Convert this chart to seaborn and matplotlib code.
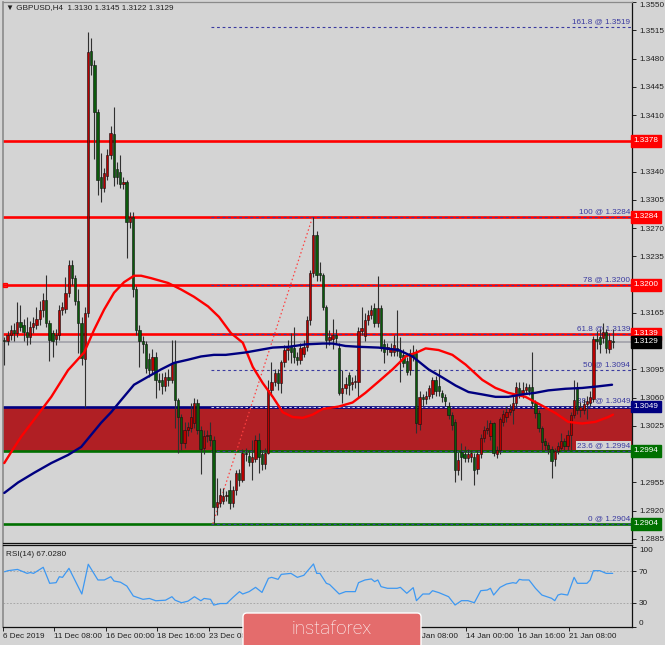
import numpy as np
import pandas as pd
import matplotlib
matplotlib.use("Agg")
import matplotlib.pyplot as plt
import matplotlib.transforms as mtrans
from matplotlib.patches import FancyBboxPatch
import seaborn as sns

# GBPUSD H4 candles (bar 0 = 6 Dec 2019 16:00)
opens = [
    1.3132, 1.3130, 1.3137, 1.3144, 1.3140, 1.3154, 1.3150, 1.3141, 1.3135, 1.3148,
    1.3150, 1.3158, 1.3168, 1.3181, 1.3153, 1.3140, 1.3133, 1.3138, 1.3169, 1.3170,
    1.3190, 1.3224, 1.3208, 1.3180, 1.3153, 1.3108, 1.3165, 1.3489, 1.3472, 1.3414,
    1.3333, 1.3320, 1.3335, 1.3361, 1.3386, 1.3343, 1.3340, 1.3324, 1.3327, 1.3278,
    1.3284, 1.3194, 1.3144, 1.3130, 1.3126, 1.3108, 1.3094, 1.3110, 1.3082, 1.3082,
    1.3074, 1.3085, 1.3082, 1.3103, 1.3057, 1.3036, 1.3004, 1.3020, 1.3022, 1.3028,
    1.3054, 1.3020, 1.2998, 1.3012, 1.3014, 1.3008, 1.2924, 1.2930, 1.2932, 1.2938,
    1.2946, 1.2930, 1.2946, 1.2967, 1.2958, 1.2992, 1.2988, 1.2980, 1.2984, 1.3008,
    1.2990, 1.2978, 1.2992, 1.3070, 1.3080, 1.3091, 1.3078, 1.3104, 1.3119, 1.3124,
    1.3122, 1.3110, 1.3107, 1.3114, 1.3123, 1.3156, 1.3215, 1.3262, 1.3214, 1.3212,
    1.3172, 1.3131, 1.3133, 1.3138, 1.3122, 1.3066, 1.3072, 1.3088, 1.3077, 1.3079,
    1.3079, 1.3142, 1.3136, 1.3156, 1.3162, 1.3171, 1.3153, 1.3171, 1.3127, 1.3120,
    1.3117, 1.3117, 1.3122, 1.3118, 1.3113, 1.3105, 1.3094, 1.3115, 1.3115, 1.3027,
    1.3061, 1.3058, 1.3062, 1.3064, 1.3082, 1.3074, 1.3066, 1.3061, 1.3050, 1.3039,
    1.3030, 1.2971, 1.2993, 1.2990, 1.2985, 1.2986, 1.2987, 1.2972, 1.2990, 1.3010,
    1.3020, 1.3012, 1.3028, 1.2990, 1.2995, 1.3030, 1.3036, 1.3042, 1.3045, 1.3053,
    1.3072, 1.3064, 1.3070, 1.3073, 1.3073, 1.3053, 1.3041, 1.3022, 1.3006, 1.3001,
    1.2997, 1.2984, 1.2994, 1.2998, 1.3006, 1.3000, 1.3014, 1.3039, 1.3072, 1.3045,
    1.3045, 1.3052, 1.3054, 1.3058, 1.3133, 1.3135, 1.3134, 1.3141, 1.3120, 1.3130,
]
highs = [
    1.3135, 1.3142, 1.3150, 1.3153, 1.3179, 1.3175, 1.3158, 1.3160, 1.3155, 1.3160,
    1.3172, 1.3180, 1.3190, 1.3212, 1.3156, 1.3144, 1.3145, 1.3175, 1.3178, 1.3210,
    1.3230, 1.3230, 1.3212, 1.3194, 1.3160, 1.3172, 1.3513, 1.3505, 1.3478, 1.3417,
    1.3363, 1.3345, 1.3368, 1.3396, 1.3420, 1.3352, 1.3361, 1.3333, 1.3330, 1.3290,
    1.3290, 1.3198, 1.3150, 1.3136, 1.3130, 1.3115, 1.3120, 1.3117, 1.3090, 1.3090,
    1.3092, 1.3095, 1.3131, 1.3131, 1.3060, 1.3040, 1.3030, 1.3030, 1.3054, 1.3060,
    1.3058, 1.3025, 1.3020, 1.3020, 1.3030, 1.3012, 1.2960, 1.2948, 1.2948, 1.2945,
    1.2958, 1.2950, 1.2971, 1.2972, 1.2996, 1.2998, 1.2995, 1.3007, 1.3014, 1.3016,
    1.2995, 1.2998, 1.3082, 1.3104, 1.3096, 1.3096, 1.3107, 1.3125, 1.3131, 1.3140,
    1.3148, 1.3117, 1.3128, 1.3131, 1.3161, 1.3218, 1.3284, 1.3266, 1.3228, 1.3215,
    1.3175, 1.3144, 1.3158, 1.3145, 1.3128, 1.3094, 1.3085, 1.3092, 1.3085, 1.3088,
    1.3147, 1.3172, 1.3165, 1.3168, 1.3175, 1.3177, 1.3211, 1.3175, 1.3133, 1.3128,
    1.3128, 1.3138, 1.3169, 1.3135, 1.3120, 1.3110, 1.3120, 1.3125, 1.3120, 1.3068,
    1.3065, 1.3068, 1.3076, 1.3086, 1.3087, 1.3095, 1.3070, 1.3064, 1.3055, 1.3042,
    1.3034, 1.2993, 1.3004, 1.3000, 1.2996, 1.2995, 1.2992, 1.2995, 1.3015, 1.3025,
    1.3032, 1.3032, 1.3030, 1.3000, 1.3036, 1.3045, 1.3050, 1.3052, 1.3066, 1.3080,
    1.3080, 1.3080, 1.3078, 1.3077, 1.3117, 1.3057, 1.3045, 1.3025, 1.3010, 1.3005,
    1.3000, 1.2998, 1.3005, 1.3016, 1.3010, 1.3020, 1.3042, 1.3082, 1.3080, 1.3055,
    1.3058, 1.3062, 1.3068, 1.3136, 1.3142, 1.3145, 1.3152, 1.3145, 1.3140, 1.3145,
]
lows = [
    1.3100, 1.3125, 1.3132, 1.3130, 1.3135, 1.3142, 1.3130, 1.3125, 1.3127, 1.3140,
    1.3145, 1.3150, 1.3160, 1.3148, 1.3105, 1.3110, 1.3125, 1.3132, 1.3162, 1.3165,
    1.3185, 1.3200, 1.3175, 1.3115, 1.3100, 1.3049, 1.3160, 1.3460, 1.3355, 1.3311,
    1.3302, 1.3315, 1.3330, 1.3355, 1.3322, 1.3325, 1.3320, 1.3318, 1.3233, 1.3270,
    1.3185, 1.3138, 1.3098, 1.3115, 1.3090, 1.3085, 1.3090, 1.3060, 1.3070, 1.3065,
    1.3068, 1.3075, 1.3078, 1.3023, 1.2992, 1.2995, 1.2998, 1.3012, 1.3018, 1.3022,
    1.3015, 1.2966, 1.2990, 1.3005, 1.3000, 1.2904, 1.2915, 1.2925, 1.2928, 1.2932,
    1.2922, 1.2925, 1.2940, 1.2950, 1.2955, 1.2982, 1.2975, 1.2958, 1.2980, 1.2967,
    1.2970, 1.2972, 1.2990, 1.3062, 1.3075, 1.3070, 1.3066, 1.3098, 1.3107, 1.3103,
    1.3103, 1.3100, 1.3102, 1.3110, 1.3118, 1.3150, 1.3210, 1.3205, 1.3205, 1.3168,
    1.3122, 1.3125, 1.3120, 1.3127, 1.3063, 1.3054, 1.3065, 1.3063, 1.3070, 1.3072,
    1.3060, 1.3138, 1.3130, 1.3150, 1.3158, 1.3148, 1.3148, 1.3118, 1.3103, 1.3113,
    1.3112, 1.3112, 1.3112, 1.3080, 1.3098, 1.3088, 1.3088, 1.3105, 1.3016, 1.3020,
    1.3050, 1.3052, 1.3058, 1.3060, 1.3062, 1.3062, 1.3055, 1.3050, 1.3034, 1.3020,
    1.2955, 1.2964, 1.2958, 1.2980, 1.2980, 1.2980, 1.2952, 1.2966, 1.2985, 1.3005,
    1.3015, 1.3008, 1.2988, 1.2985, 1.2990, 1.3025, 1.3030, 1.3038, 1.3027, 1.3048,
    1.3060, 1.3060, 1.3065, 1.3063, 1.3048, 1.3035, 1.3018, 1.2995, 1.2995, 1.2990,
    1.2960, 1.2975, 1.2990, 1.2995, 1.2995, 1.2995, 1.2995, 1.3035, 1.3040, 1.3036,
    1.3040, 1.3033, 1.3050, 1.3055, 1.3120, 1.3115, 1.3128, 1.3115, 1.3115, 1.3122,
]
closes = [
    1.3130, 1.3137, 1.3144, 1.3140, 1.3154, 1.3148, 1.3141, 1.3135, 1.3148, 1.3152,
    1.3158, 1.3168, 1.3181, 1.3153, 1.3132, 1.3130, 1.3138, 1.3169, 1.3172, 1.3190,
    1.3224, 1.3208, 1.3180, 1.3153, 1.3109, 1.3165, 1.3488, 1.3472, 1.3414, 1.3330,
    1.3320, 1.3338, 1.3361, 1.3388, 1.3333, 1.3333, 1.3324, 1.3327, 1.3278, 1.3284,
    1.3194, 1.3144, 1.3130, 1.3126, 1.3097, 1.3094, 1.3110, 1.3082, 1.3080, 1.3074,
    1.3085, 1.3082, 1.3103, 1.3057, 1.3036, 1.3004, 1.3020, 1.3024, 1.3036, 1.3054,
    1.3020, 1.2996, 1.3012, 1.3014, 1.3008, 1.2924, 1.2931, 1.2940, 1.2938, 1.2940,
    1.2930, 1.2946, 1.2967, 1.2958, 1.2992, 1.2990, 1.2980, 1.2986, 1.3008, 1.2986,
    1.2978, 1.2992, 1.3070, 1.3080, 1.3091, 1.3078, 1.3104, 1.3119, 1.3122, 1.3116,
    1.3110, 1.3107, 1.3121, 1.3123, 1.3156, 1.3215, 1.3262, 1.3212, 1.3212, 1.3172,
    1.3131, 1.3135, 1.3138, 1.3134, 1.3066, 1.3072, 1.3077, 1.3076, 1.3079, 1.3081,
    1.3142, 1.3146, 1.3156, 1.3162, 1.3169, 1.3153, 1.3171, 1.3123, 1.3117, 1.3123,
    1.3122, 1.3125, 1.3118, 1.3110, 1.3103, 1.3092, 1.3115, 1.3110, 1.3029, 1.3061,
    1.3058, 1.3062, 1.3072, 1.3082, 1.3068, 1.3068, 1.3061, 1.3056, 1.3039, 1.3026,
    1.2971, 1.2983, 1.2986, 1.2985, 1.2990, 1.2991, 1.2971, 1.2990, 1.3010, 1.3020,
    1.3022, 1.3028, 1.2992, 1.2995, 1.3033, 1.3040, 1.3042, 1.3046, 1.3053, 1.3073,
    1.3064, 1.3070, 1.3073, 1.3068, 1.3053, 1.3041, 1.3022, 1.3005, 1.3001, 1.2997,
    1.2982, 1.2994, 1.3000, 1.3006, 1.3000, 1.3014, 1.3039, 1.3057, 1.3045, 1.3048,
    1.3052, 1.3056, 1.3061, 1.3133, 1.3130, 1.3127, 1.3141, 1.3122, 1.3132, 1.3129,
]

# moving averages (red = fast, navy = slow), read at sample bars
red_ma_bar = [0, 2.2, 5.3, 9.3, 14.6, 19.8, 24.8, 27.9, 31, 34.1, 37.2, 40.3, 42.5, 45.6,
              50.9, 54.9, 58.9, 63.3, 66.7, 70.4, 74.1, 77.2, 80.3, 83.4, 86.5, 89.6,
              92.7, 95.8, 98.9, 103.9, 108.2, 112.2, 116.3, 120.6, 124.7, 128.7, 130.9,
              134.9, 139.2, 143.3, 148.5, 152.6, 156.6, 161.9, 167.1, 171.2, 175.2,
              179.5, 183.6, 187.6, 189.1]
red_ma_val = [1.2979, 1.2993, 1.3012, 1.3033, 1.3061, 1.3094, 1.3116, 1.3144, 1.3169, 1.3190,
              1.3203, 1.3211, 1.3211, 1.3208, 1.3202, 1.3194, 1.3185, 1.3173, 1.3160, 1.3140,
              1.3128, 1.3098, 1.3078, 1.3061, 1.3042, 1.3036, 1.3035, 1.3039, 1.3046, 1.3049,
              1.3054, 1.3066, 1.3080, 1.3095, 1.3111, 1.3117, 1.3121, 1.3119, 1.3113, 1.3101,
              1.3082, 1.3072, 1.3066, 1.3061, 1.3050, 1.3041, 1.3030, 1.3028, 1.3030, 1.3036,
              1.3039]
blue_ma_bar = [0, 4.3, 9.3, 14.6, 19.8, 23.9, 27, 30.1, 33.2, 36.3, 40.3, 44.7, 48.7, 52.7,
               57.1, 61.1, 65.1, 68.8, 75, 83.4, 88.4, 93.6, 98.9, 102, 106, 110, 116.3,
               122.5, 126.8, 129.3, 131.8, 136.1, 140.2, 144.2, 148.5, 152.6, 156.6, 160.9,
               165, 169, 174.3, 179.5, 184.5, 188.8]
blue_ma_val = [1.2942, 1.2955, 1.2967, 1.2979, 1.2989, 1.2999, 1.3014, 1.3029, 1.3042, 1.3057,
               1.3076, 1.3086, 1.3095, 1.3103, 1.3107, 1.3111, 1.3113, 1.3113, 1.3116, 1.3122,
               1.3123, 1.3126, 1.3127, 1.3127, 1.3124, 1.3123, 1.3122, 1.3119, 1.3111, 1.3103,
               1.3095, 1.3085, 1.3075, 1.3067, 1.3064, 1.3061, 1.3061, 1.3064, 1.3066, 1.3069,
               1.3071, 1.3072, 1.3074, 1.3076]

# RSI(14)
rsi_bar = [0, 1, 4, 5, 7, 8, 9, 12, 14, 16, 17, 18, 20, 24, 26, 29, 31, 33, 34, 36, 38, 40,
           43, 45, 47, 50, 52, 53, 55, 57, 59, 61, 62, 64, 65, 67, 69, 71, 73, 74, 76, 78,
           80, 82, 83, 85, 86, 89, 91, 93, 96, 97, 98, 100, 101, 104, 106, 109, 110, 112,
           114, 115, 116, 117, 119, 122, 123, 125, 127, 128, 130, 132, 133, 135, 138, 140,
           142, 144, 146, 148, 150, 151, 152, 154, 156, 158, 159, 160, 161, 163, 165, 167,
           170, 171, 172, 173, 175, 177, 178, 181, 182, 183, 185, 187, 189]
rsi_val = [69, 70.4, 72, 70.4, 67, 68.1, 67, 74.7, 54.5, 55.3, 62.8, 62, 73.4, 41, 78.5,
           58.7, 58.7, 62.8, 57.4, 55.9, 51, 38.5, 34.3, 35.4, 32.5, 33.2, 37.6, 33.2, 30,
           32, 37.6, 32.5, 35.4, 34.3, 27, 29, 29, 36.8, 44, 41, 44, 49.4, 43, 60.8, 62,
           59.5, 65.8, 67, 62, 64.6, 78.9, 67, 67, 54.5, 53, 41, 44, 44, 55.3, 58.7, 60,
           56.6, 58.7, 50.3, 48.2, 48.2, 49.4, 41.9, 49, 32.6, 41, 41, 45.2, 42.7, 37.6,
           27.1, 32.6, 32.6, 30, 45.2, 46, 48.2, 39.7, 49.4, 53.6, 55.3, 54.5, 59.5, 58.7,
           58.7, 48.2, 39.7, 35.6, 32.6, 39.7, 41, 39.7, 62, 54.5, 54.5, 58.7, 70.4, 70.4,
           67, 67.03]

# horizontal levels
red_levels = [1.3378, 1.3284, 1.3200, 1.3139]
navy_level = 1.3049
green_levels = [1.2994, 1.2904]
last_price = 1.3129
zone = (1.2994, 1.3049)

fib_levels = [1.3519, 1.3284, 1.3200, 1.3139, 1.3094, 1.3049, 1.2994, 1.2904]
fib_names = ["161.8", "100", "78", "61.8", "50", "38.2", "23.6", "0"]
fib_start = (64.8, 1.2904)
fib_end = (95.8, 1.3284)

price_ticks = [1.2885, 1.2920, 1.2955, 1.2990, 1.3025, 1.3060, 1.3095, 1.3130, 1.3165,
               1.3200, 1.3235, 1.3270, 1.3305, 1.3340, 1.3375, 1.3410, 1.3445, 1.3480,
               1.3515, 1.3550]
# these scale labels sit under the coloured price boxes
covered_ticks = [1.2990, 1.3130, 1.3200, 1.3375]
date_ticks = [-0.5, 15.5, 31.5, 47.5, 63.5, 79.5, 95.5, 111.5, 127.5, 143.5, 159.5, 175.5]
# the three labels under the watermark are not visible in the chart
date_labels = ["6 Dec 2019", "11 Dec 08:00", "16 Dec 00:00", "18 Dec 16:00", "23 Dec 08:00",
               "", "", "", "9 Jan 08:00", "14 Jan 00:00", "16 Jan 16:00", "21 Jan 08:00"]

BG = "#D4D4D4"
RED = "#FF0000"
NAVY = "#000080"
GREEN = "#007000"
FIBC = "#3A3AA0"
FS = 5.9

sns.set_theme(style="white", rc={"axes.facecolor": BG, "figure.facecolor": BG})
plt.rcParams["font.family"] = ["Liberation Sans", "DejaVu Sans"]

W, H = 665, 645
fig = plt.figure(figsize=(W / 100, H / 100), dpi=100)
fig.patch.set_facecolor(BG)
ax = fig.add_axes([3 / W, 1 - 543 / H, 629 / W, 541 / H])
rax = fig.add_axes([3 / W, 1 - 627 / H, 629 / W, 82 / H])

df = pd.DataFrame({"o": opens, "h": highs, "l": lows, "c": closes})
df["bar"] = np.arange(len(df))
bull = df["c"] >= df["o"]
body_lo = df[["o", "c"]].min(axis=1)
body_h = (df["c"] - df["o"]).abs().clip(lower=0.00006)

XMAX = 195.0
for a in (ax, rax):
    a.set_xlim(-0.4, XMAX)
    a.set_facecolor(BG)

# zone and levels
ax.axhspan(zone[0], zone[1], color="#B01F24", lw=0, zorder=1)
for lv in red_levels:
    ax.axhline(lv, color=RED, lw=1.9, zorder=2)
ax.axhline(navy_level, color=NAVY, lw=1.9, zorder=2)
for lv in green_levels:
    ax.axhline(lv, color=GREEN, lw=1.9, zorder=2)
ax.axhline(last_price, color="#A8A8B0", lw=1.4, zorder=2)
ax.plot([0.3], [red_levels[2]], marker="s", ms=3, mfc="none", mec=RED, mew=0.9,
        clip_on=False, zorder=3)

ax.hlines(fib_levels, fib_start[0] - 0.5, XMAX, colors=FIBC, linestyles=(0, (2.5, 2.5)),
          lw=0.8, zorder=2.6)
ax.hlines([navy_level], fib_start[0] - 0.5, XMAX, colors="#D8D8F0", linestyles=(0, (2.5, 2.5)),
          lw=0.7, zorder=2.7)
for lv, nm in zip(fib_levels, fib_names):
    kw = {}
    if nm == "23.6":
        kw["bbox"] = dict(boxstyle="square,pad=0.1", fc=BG, ec="none")
    ax.text(194.4, lv + 0.00022, f"{nm} @ {lv:.4f}", ha="right", va="bottom",
            fontsize=FS, color=FIBC, zorder=3, **kw)
ax.plot([fib_start[0], fib_end[0]], [fib_start[1], fib_end[1]], ls=(0, (1.2, 2)),
        color="#FF4040", lw=0.9, zorder=3)

# candles
ax.vlines(df["bar"], df["l"], df["h"], color="#303030", lw=0.8, zorder=4)
ax.bar(df["bar"], body_h, bottom=body_lo, width=0.72,
       color=np.where(bull, "#B80000", "#0B5A0B"), edgecolor="#101010", lw=0.4, zorder=5)

# moving averages
sns.lineplot(x=red_ma_bar, y=red_ma_val, ax=ax, color=RED, lw=1.7, estimator=None,
             sort=False, zorder=6)
sns.lineplot(x=blue_ma_bar, y=blue_ma_val, ax=ax, color=NAVY, lw=1.7, estimator=None,
             sort=False, zorder=6)

ax.set_ylim(1.2880, 1.3550)
ax.set_xticks([])
ax.set_xlabel("")
ax.set_ylabel("")
ax.yaxis.tick_right()
ax.set_yticks(price_ticks)
ax.set_yticklabels(["" if t in covered_ticks else f"{t:.4f}" for t in price_ticks])
ax.tick_params(axis="y", right=True, length=3, width=0.7, pad=2, labelsize=FS,
               colors="#202020")
for lab in ax.get_yticklabels():
    if lab.get_text() == "1.3550":
        lab.set_va("top")

# price boxes on the right scale
tr = mtrans.blended_transform_factory(ax.transAxes, ax.transData)
boxes = [(lv, RED) for lv in red_levels] + [(last_price, "#000000"), (navy_level, NAVY)] + \
        [(lv, GREEN) for lv in green_levels]
for lv, fc in boxes:
    ax.text(1.003, lv, f"{lv:.4f}", transform=tr, ha="left", va="center", fontsize=FS,
            color="white", clip_on=False, zorder=10,
            bbox=dict(boxstyle="square,pad=0.3", fc=fc, ec=fc))

# RSI panel
rax.axhline(70, color="#A0A0A0", lw=0.6, ls=(0, (2, 2)), zorder=1)
rax.axhline(30, color="#A0A0A0", lw=0.6, ls=(0, (2, 2)), zorder=1)
sns.lineplot(x=rsi_bar, y=rsi_val, ax=rax, color="#3D98F2", lw=0.9, estimator=None,
             sort=False, zorder=3)
rax.set_ylim(-0.6, 102.8)
rax.set_xlabel("")
rax.set_ylabel("")
rax.yaxis.tick_right()
rax.set_yticks([0, 30, 70, 100])
rax.set_yticklabels(["0", "30", "70", "100"])
rax.tick_params(axis="y", right=True, length=3, width=0.7, pad=2, labelsize=FS,
                colors="#202020")
for lab in rax.get_yticklabels():
    if lab.get_text() == "100":
        lab.set_va("top")
    elif lab.get_text() == "0":
        lab.set_va("bottom")
rax.set_xticks(date_ticks)
rax.set_xticklabels(date_labels)
rax.tick_params(axis="x", bottom=True, length=3, width=0.7, pad=1.5, labelsize=FS,
                colors="#202020")
for lab in rax.get_xticklabels():
    lab.set_ha("left")
rax.text(0.004, 0.88, "RSI(14) 67.0280", transform=rax.transAxes, fontsize=FS,
         color="#202020", va="center", ha="left")

for a in (ax, rax):
    for side in ("right", "bottom", "top"):
        a.spines[side].set_color("#101010")
        a.spines[side].set_linewidth(0.9)
    a.spines["left"].set_color("#8A8A8A")
    a.spines["left"].set_linewidth(1.2)
ax.spines["top"].set_color("#8A8A8A")

fig.text(6 / W, 1 - 8 / H, "\u25bc GBPUSD,H4  1.3130 1.3145 1.3122 1.3129", fontsize=FS,
         color="#202020", va="center", ha="left")

# watermark
wm = FancyBboxPatch((243 / W, -0.01), 178 / W, 0.01 + (H - 613) / H,
                    boxstyle="round,pad=0,rounding_size=0.006", transform=fig.transFigure,
                    fc="#E46C6C", ec="white", lw=1.0, zorder=20)
fig.add_artist(wm)
fig.text(332 / W, 1 - 629 / H, "instaforex", fontsize=13.5, color="white",
         family=["Roboto", "DejaVu Sans"], fontweight="light", ha="center", va="center",
         zorder=21)

fig.savefig("out.png", dpi=100, facecolor=BG)
